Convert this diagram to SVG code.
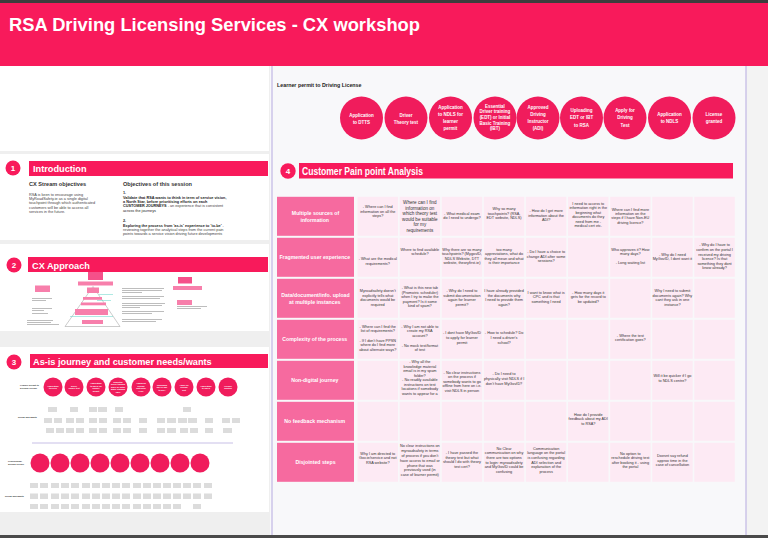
<svg xmlns="http://www.w3.org/2000/svg" width="768" height="538" viewBox="0 0 768 538">
<style>
text{font-family:"Liberation Sans",Arial,sans-serif}
.h1{font-weight:bold;fill:#fff}
.pk{fill:#F81A5B}
.st{fill:#F01C5C}
.stt{font-weight:bold;fill:#fff;font-size:4.5px;text-anchor:middle}
.sst{font-weight:bold;fill:#fff;font-size:2.1px;text-anchor:middle}
.rh{fill:#F66A9F}
.rht{font-weight:bold;fill:#fff;font-size:5.2px;text-anchor:middle}
.cell{fill:#FDEAF4}
.ct{font-size:3.8px;fill:#333;text-anchor:middle}
.gb{fill:#dcdcdc}
.tl{fill:#bdbdbd}
.lb{font-size:2.3px;fill:#333;font-weight:bold}
.bd{font-size:3.8px;fill:#444}
.bdb{font-size:3.8px;fill:#222;font-weight:bold}
.sub{font-size:5.6px;fill:#333;font-weight:bold}
</style>
<rect x="0" y="0" width="768" height="538" fill="#EFEFEF"/>
<rect x="0" y="0" width="768" height="3" fill="#3d3d3d"/>
<rect x="0" y="3" width="768" height="63" class="pk"/>
<text x="9" y="31" class="h1" font-size="18" textLength="411" lengthAdjust="spacingAndGlyphs">RSA Driving Licensing Services - CX workshop</text>
<!-- panels -->
<rect x="0" y="66" width="269" height="85" fill="#fff"/>
<rect x="0" y="154" width="269" height="86" fill="#fff"/>
<rect x="0" y="244" width="269" height="87" fill="#fff"/>
<rect x="0" y="347" width="269" height="165" fill="#fff"/>
<rect x="270" y="66" width="476" height="469" fill="#F8F8FA"/>
<rect x="747" y="66" width="21" height="469" fill="#F3F3F3"/>
<line x1="272" y1="66" x2="272" y2="535" stroke="#CCC5E8" stroke-width="1.5"/>
<line x1="746" y1="66" x2="746" y2="535" stroke="#CCC5E8" stroke-width="1.5"/>
<rect x="0" y="535" width="768" height="3" fill="#4a4a4a"/>

<!-- Section 1 -->
<g id="sec1">
<circle cx="13" cy="168" r="7.5" class="pk"/>
<text x="13" y="171" class="h1" font-size="8" text-anchor="middle">1</text>
<rect x="29" y="161" width="239" height="15" class="pk"/>
<text x="33" y="172" class="h1" font-size="9.2">Introduction</text>
<text x="29" y="186" class="sub">CX Stream objectives</text>
<text class="bd" x="29" y="195.5"><tspan x="29">RSA is keen to encourage using</tspan><tspan x="29" dy="4.4">MyRoadSafety.ie as a single digital</tspan><tspan x="29" dy="4.4">touchpoint through which authenticated</tspan><tspan x="29" dy="4.4">customers will be able to access all</tspan><tspan x="29" dy="4.4">services in the future.</tspan></text>
<text x="123" y="186" class="sub">Objectives of this session</text>
<text x="123" y="194" class="bdb">1.</text>
<text class="bdb" x="123" y="199"><tspan x="123">Validate that RSA wants to think in term of service vision,</tspan><tspan x="123" dy="4.2">a North Star, before prioritising efforts on each</tspan><tspan x="123" dy="4.2">CUSTOMER JOURNEYS<tspan class="bd" font-weight="normal"> - an experience that is consistent</tspan></tspan><tspan x="123" dy="4.2" font-weight="normal">across the journeys</tspan></text>
<text x="123" y="222" class="bdb">2.</text>
<text class="bd" x="123" y="226.5"><tspan x="123" font-weight="bold" fill="#222">Exploring the process from 'as-is' experience to 'to-be'</tspan><tspan> -</tspan><tspan x="123" dy="4.2">reviewing together the analytical steps from the current pain</tspan><tspan x="123" dy="4.2">points towards a service vision driving future developments</tspan></text>
</g>

<!-- Section 2 -->
<g id="sec2">
<circle cx="14" cy="265" r="7.5" class="pk"/>
<text x="14" y="268" class="h1" font-size="8" text-anchor="middle">2</text>
<rect x="28" y="257" width="240" height="15" class="pk"/>
<text x="32" y="268.5" class="h1" font-size="9.2">CX Approach</text>
<rect x="88" y="272" width="15" height="8" fill="#F5508A"/>
<rect x="78" y="281.5" width="35" height="4" fill="#F77FAB"/>
<polygon points="93,286.5 65,326.5 120,326.5" fill="none" stroke="#999" stroke-width="0.5"/>
<rect x="87" y="287.5" width="12" height="5.5" fill="#F77FAB"/>
<rect x="83" y="297" width="19" height="2.8" fill="#F77FAB"/>
<rect x="81" y="302.5" width="25" height="2.8" fill="#F77FAB"/>
<rect x="75" y="309" width="33" height="6" fill="#F77FAB"/>
<rect x="82" y="320" width="21" height="4" fill="#F77FAB"/>
<line x1="99" y1="294.5" x2="113" y2="294.5" stroke="#5FD3C7" stroke-width="0.5"/>
<line x1="97" y1="300.5" x2="111" y2="300.5" stroke="#5FD3C7" stroke-width="0.5"/>
<line x1="70" y1="316.5" x2="113" y2="316.5" stroke="#5FD3C7" stroke-width="0.5"/>
<rect x="35" y="285.5" width="15" height="6.5" fill="#F77FAB"/>
<rect x="32" y="298" width="20" height="1" class="tl"/><rect x="32" y="300" width="14" height="1" class="tl"/>
<rect x="32" y="308" width="20" height="1" class="tl"/><rect x="32" y="310" width="12" height="1" class="tl"/><rect x="32" y="313" width="16" height="1" class="tl"/>
<rect x="27" y="320" width="26" height="1" class="tl"/><rect x="27" y="322" width="24" height="1" class="tl"/><rect x="27" y="324" width="32" height="1" class="tl"/>
<rect x="122" y="288" width="42" height="1" class="tl"/><rect x="122" y="290" width="40" height="1" class="tl"/><rect x="122" y="292" width="20" height="1" class="tl"/>
<rect x="122" y="296" width="42" height="1" class="tl"/><rect x="122" y="298" width="38" height="1" class="tl"/>
<rect x="122" y="303" width="43" height="1" class="tl"/><rect x="122" y="305" width="40" height="1" class="tl"/><rect x="122" y="307" width="18" height="1" class="tl"/>
<rect x="122" y="311" width="42" height="1" class="tl"/><rect x="122" y="313" width="30" height="1" class="tl"/>
<rect x="122" y="319" width="40" height="1" class="tl"/><rect x="122" y="321" width="34" height="1" class="tl"/>
<rect x="178" y="277" width="14" height="6.5" fill="#F5508A"/>
<rect x="173" y="286" width="29" height="4" fill="#F77FAB"/>
<rect x="177" y="300" width="15" height="5" fill="#F77FAB"/>
<rect x="177" y="306" width="30" height="1" class="tl"/><rect x="177" y="308" width="24" height="1" class="tl"/>
</g>

<!-- Section 3 -->
<g id="sec3">
<circle cx="14" cy="362" r="7.5" class="pk"/>
<text x="14" y="365" class="h1" font-size="8" text-anchor="middle">3</text>
<rect x="30" y="354" width="238" height="14" class="pk"/>
<text x="33" y="365" class="h1" font-size="9.2">As-is journey and customer needs/wants</text>
<text class="lb" x="20" y="386"><tspan x="20">Learner permit to</tspan><tspan x="20" dy="2.6">Driving License</tspan></text>
<g class="st">
<circle cx="53" cy="387" r="9.5"/><circle cx="74" cy="387" r="9.5"/><circle cx="96" cy="387" r="9.5"/><circle cx="118" cy="387" r="9.5"/><circle cx="141" cy="387" r="9.5"/><circle cx="162" cy="387" r="9.5"/><circle cx="184" cy="387" r="9.5"/><circle cx="206" cy="387" r="9.5"/><circle cx="228" cy="387" r="9.5"/>
</g>
<text class="sst"><tspan x="53" y="386.5">Application</tspan><tspan x="53" dy="2.6">to DTTS</tspan><tspan x="74" y="386.5">Driver</tspan><tspan x="74" dy="2.6">Theory test</tspan><tspan x="96" y="384">Application</tspan><tspan x="96" dy="2.6">to NDLS for</tspan><tspan x="96" dy="2.6">learner</tspan><tspan x="96" dy="2.6">permit</tspan><tspan x="118" y="383">Essential</tspan><tspan x="118" dy="2.4">Driver training</tspan><tspan x="118" dy="2.4">(EDT) or Initial</tspan><tspan x="118" dy="2.4">Basic Training</tspan><tspan x="118" dy="2.4">(IBT)</tspan><tspan x="141" y="384">Approved</tspan><tspan x="141" dy="2.6">Driving</tspan><tspan x="141" dy="2.6">Instructor</tspan><tspan x="141" dy="2.6">(ADI)</tspan><tspan x="162" y="385.5">Uploading</tspan><tspan x="162" dy="2.6">EDT or IBT</tspan><tspan x="162" dy="2.6">to RSA</tspan><tspan x="184" y="385.5">Apply for</tspan><tspan x="184" dy="2.6">Driving</tspan><tspan x="184" dy="2.6">Test</tspan><tspan x="206" y="386.5">Application</tspan><tspan x="206" dy="2.6">to NDLS</tspan><tspan x="228" y="386.5">License</tspan><tspan x="228" dy="2.6">granted</tspan></text>
<text class="lb" x="18" y="418">Needs and wants</text>
<g class="gb">
<rect x="48" y="407" width="9" height="5"/><rect x="70" y="407" width="8" height="5"/><rect x="89" y="407" width="8" height="5"/><rect x="98" y="407" width="9" height="5"/><rect x="115" y="407" width="8" height="5"/><rect x="183" y="407" width="8" height="5"/>
<rect x="44" y="418" width="8" height="5"/><rect x="54" y="418" width="8" height="5"/><rect x="66" y="418" width="8" height="5"/><rect x="76" y="418" width="8" height="5"/><rect x="89" y="418" width="8" height="5"/><rect x="99" y="418" width="8" height="5"/><rect x="113" y="418" width="8" height="5"/><rect x="123" y="418" width="8" height="5"/><rect x="139" y="418" width="8" height="5"/><rect x="157" y="418" width="8" height="5"/><rect x="167" y="418" width="9" height="5"/><rect x="178" y="418" width="9" height="5"/><rect x="188" y="418" width="9" height="5"/><rect x="205" y="418" width="8" height="5"/><rect x="222" y="418" width="8" height="5"/><rect x="232" y="418" width="8" height="5"/>
<rect x="46" y="428" width="8" height="5"/><rect x="56" y="428" width="8" height="5"/><rect x="66" y="428" width="8" height="5"/><rect x="76" y="428" width="8" height="5"/><rect x="89" y="428" width="8" height="5"/><rect x="99" y="428" width="8" height="5"/><rect x="113" y="428" width="8" height="5"/><rect x="123" y="428" width="8" height="5"/><rect x="139" y="428" width="8" height="5"/><rect x="157" y="428" width="8" height="5"/><rect x="167" y="428" width="9" height="5"/><rect x="180" y="428" width="8" height="5"/><rect x="190" y="428" width="8" height="5"/><rect x="205" y="428" width="8" height="5"/><rect x="223" y="428" width="9" height="5"/>
</g>
<line x1="32" y1="443" x2="233" y2="443" stroke="#B9AEE0" stroke-width="0.8"/>
<text class="lb" x="8" y="462"><tspan x="8">Professional</tspan><tspan x="8" dy="2.6">driving licence</tspan></text>
<g class="st">
<circle cx="40" cy="463" r="9.5"/><circle cx="60" cy="463" r="9.5"/><circle cx="80" cy="463" r="9.5"/><circle cx="100" cy="463" r="9.5"/><circle cx="120" cy="463" r="9.5"/><circle cx="140" cy="463" r="9.5"/><circle cx="160" cy="463" r="9.5"/><circle cx="180" cy="463" r="9.5"/><circle cx="200" cy="463" r="9.5"/>
</g>
<text class="lb" x="5" y="497">Needs and wants</text>
<g class="gb">
<rect x="30" y="483" width="8" height="5"/><rect x="40" y="483" width="8" height="5"/><rect x="51" y="483" width="8" height="5"/><rect x="61" y="483" width="8" height="5"/><rect x="71" y="483" width="8" height="5"/><rect x="82" y="483" width="8" height="5"/><rect x="92" y="483" width="8" height="5"/><rect x="102" y="483" width="8" height="5"/><rect x="112" y="483" width="8" height="5"/><rect x="122" y="483" width="8" height="5"/><rect x="133" y="483" width="8" height="5"/><rect x="143" y="483" width="8" height="5"/><rect x="153" y="483" width="8" height="5"/><rect x="163" y="483" width="8" height="5"/><rect x="173" y="483" width="8" height="5"/><rect x="183" y="483" width="8" height="5"/><rect x="193" y="483" width="8" height="5"/><rect x="204" y="483" width="8" height="5"/>
<rect x="30" y="493.5" width="8" height="5.5"/><rect x="40" y="493.5" width="8" height="5.5"/><rect x="51" y="493.5" width="8" height="5.5"/><rect x="61" y="493.5" width="8" height="5.5"/><rect x="71" y="493.5" width="8" height="5.5"/><rect x="82" y="493.5" width="8" height="5.5"/><rect x="92" y="493.5" width="8" height="5.5"/><rect x="102" y="493.5" width="8" height="5.5"/><rect x="112" y="493.5" width="8" height="5.5"/><rect x="122" y="493.5" width="8" height="5.5"/><rect x="133" y="493.5" width="8" height="5.5"/><rect x="143" y="493.5" width="8" height="5.5"/><rect x="153" y="493.5" width="8" height="5.5"/><rect x="163" y="493.5" width="8" height="5.5"/><rect x="173" y="493.5" width="8" height="5.5"/><rect x="183" y="493.5" width="8" height="5.5"/><rect x="193" y="493.5" width="8" height="5.5"/><rect x="204" y="493.5" width="8" height="5.5"/>
<rect x="30" y="504" width="8" height="5"/><rect x="40" y="504" width="8" height="5"/><rect x="51" y="504" width="8" height="5"/><rect x="61" y="504" width="8" height="5"/><rect x="71" y="504" width="8" height="5"/><rect x="82" y="504" width="8" height="5"/><rect x="92" y="504" width="8" height="5"/><rect x="102" y="504" width="8" height="5"/><rect x="112" y="504" width="8" height="5"/><rect x="122" y="504" width="8" height="5"/><rect x="133" y="504" width="8" height="5"/><rect x="143" y="504" width="8" height="5"/><rect x="153" y="504" width="8" height="5"/><rect x="163" y="504" width="8" height="5"/><rect x="173" y="504" width="8" height="5"/><rect x="193" y="504" width="8" height="5"/>
</g>
</g>

<!-- Journey stages -->
<text x="277" y="87" font-size="5.3" font-weight="bold" fill="#222">Learner permit to Driving License</text>
<g id="stage1"><circle cx="361.5" cy="118" r="21.5" class="st"/><text class="stt"><tspan x="361.5" y="116.6">Application</tspan><tspan x="361.5" dy="7.2">to DTTS</tspan></text></g>
<g id="stage2"><circle cx="406" cy="118" r="21.5" class="st"/><text class="stt"><tspan x="406" y="116.6">Driver</tspan><tspan x="406" dy="7.2">Theory test</tspan></text></g>
<g id="stage3"><circle cx="450.5" cy="118" r="21.5" class="st"/><text class="stt"><tspan x="450.5" y="109">Application</tspan><tspan x="450.5" dy="7">to NDLS for</tspan><tspan x="450.5" dy="7">learner</tspan><tspan x="450.5" dy="7">permit</tspan></text></g>
<g id="stage4"><circle cx="495" cy="118" r="21.5" class="st"/><text class="stt" font-size="4"><tspan x="495" y="107.5">Essential</tspan><tspan x="495" dy="5.7">Driver training</tspan><tspan x="495" dy="5.7">(EDT) or Initial</tspan><tspan x="495" dy="5.7">Basic Training</tspan><tspan x="495" dy="5.7">(IBT)</tspan></text></g>
<g id="stage5"><circle cx="538" cy="118" r="21.5" class="st"/><text class="stt"><tspan x="538" y="109">Approved</tspan><tspan x="538" dy="7.1">Driving</tspan><tspan x="538" dy="7.1">Instructor</tspan><tspan x="538" dy="7.1">(ADI)</tspan></text></g>
<g id="stage6"><circle cx="581.5" cy="118" r="21.5" class="st"/><text class="stt"><tspan x="581.5" y="112.3">Uploading</tspan><tspan x="581.5" dy="7.1">EDT or IBT</tspan><tspan x="581.5" dy="7.1">to RSA</tspan></text></g>
<g id="stage7"><circle cx="625" cy="118" r="21.5" class="st"/><text class="stt"><tspan x="625" y="112.3">Apply for</tspan><tspan x="625" dy="7.1">Driving</tspan><tspan x="625" dy="7.1">Test</tspan></text></g>
<g id="stage8"><circle cx="669.5" cy="118" r="21.5" class="st"/><text class="stt"><tspan x="669.5" y="116.2">Application</tspan><tspan x="669.5" dy="7.2">to NDLS</tspan></text></g>
<g id="stage9"><circle cx="714" cy="118" r="21.5" class="st"/><text class="stt"><tspan x="714" y="116.2">License</tspan><tspan x="714" dy="7.2">granted</tspan></text></g>

<!-- Section 4 -->
<g id="sec4">
<circle cx="288" cy="171" r="7.7" class="pk"/>
<text x="288" y="174" class="h1" font-size="8" text-anchor="middle">4</text>
<rect x="299" y="163" width="434" height="15.5" class="pk"/>
<text x="302" y="174.5" class="h1" font-size="10.5" textLength="121" lengthAdjust="spacingAndGlyphs">Customer Pain point Analysis</text>
</g>

<!-- row headers -->
<g id="rowheads">
<rect x="277" y="196.8" width="77" height="39" class="rh"/>
<rect x="277" y="237.8" width="77" height="39" class="rh"/>
<rect x="277" y="278.8" width="77" height="39" class="rh"/>
<rect x="277" y="319.8" width="77" height="39" class="rh"/>
<rect x="277" y="360.8" width="77" height="39" class="rh"/>
<rect x="277" y="401.8" width="77" height="39" class="rh"/>
<rect x="277" y="442.8" width="77" height="39" class="rh"/>
<text class="rht"><tspan x="315.5" y="214.5">Multiple sources of</tspan><tspan x="315.5" dy="7.3">information</tspan>
<tspan x="315.5" y="259.2">Fragmented user experience</tspan>
<tspan x="315.5" y="296.5">Data/document/info. upload</tspan><tspan x="315.5" dy="7">at multiple instances</tspan>
<tspan x="315.5" y="341.2">Complexity of the process</tspan>
<tspan x="315.5" y="382.2">Non-digital journey</tspan>
<tspan x="315.5" y="423.2">No feedback mechanism</tspan>
<tspan x="315.5" y="464.2">Disjointed steps</tspan></text>
</g>

<!-- cells -->
<g id="cells" class="cell">
<rect x="357.5" y="196.8" width="40.5" height="39"/><rect x="399.6" y="196.8" width="40.5" height="39"/><rect x="441.7" y="196.8" width="40.5" height="39"/><rect x="483.8" y="196.8" width="40.5" height="39"/><rect x="525.9" y="196.8" width="40.5" height="39"/><rect x="568" y="196.8" width="40.5" height="39"/><rect x="610.1" y="196.8" width="40.5" height="39"/><rect x="652.2" y="196.8" width="40.5" height="39"/><rect x="694.3" y="196.8" width="40.5" height="39"/>
<rect x="357.5" y="237.8" width="40.5" height="39"/><rect x="399.6" y="237.8" width="40.5" height="39"/><rect x="441.7" y="237.8" width="40.5" height="39"/><rect x="483.8" y="237.8" width="40.5" height="39"/><rect x="525.9" y="237.8" width="40.5" height="39"/><rect x="568" y="237.8" width="40.5" height="39"/><rect x="610.1" y="237.8" width="40.5" height="39"/><rect x="652.2" y="237.8" width="40.5" height="39"/><rect x="694.3" y="237.8" width="40.5" height="39"/>
<rect x="357.5" y="278.8" width="40.5" height="39"/><rect x="399.6" y="278.8" width="40.5" height="39"/><rect x="441.7" y="278.8" width="40.5" height="39"/><rect x="483.8" y="278.8" width="40.5" height="39"/><rect x="525.9" y="278.8" width="40.5" height="39"/><rect x="568" y="278.8" width="40.5" height="39"/><rect x="610.1" y="278.8" width="40.5" height="39"/><rect x="652.2" y="278.8" width="40.5" height="39"/><rect x="694.3" y="278.8" width="40.5" height="39"/>
<rect x="357.5" y="319.8" width="40.5" height="39"/><rect x="399.6" y="319.8" width="40.5" height="39"/><rect x="441.7" y="319.8" width="40.5" height="39"/><rect x="483.8" y="319.8" width="40.5" height="39"/><rect x="525.9" y="319.8" width="40.5" height="39"/><rect x="568" y="319.8" width="40.5" height="39"/><rect x="610.1" y="319.8" width="40.5" height="39"/><rect x="652.2" y="319.8" width="40.5" height="39"/><rect x="694.3" y="319.8" width="40.5" height="39"/>
<rect x="357.5" y="360.8" width="40.5" height="39"/><rect x="399.6" y="360.8" width="40.5" height="39"/><rect x="441.7" y="360.8" width="40.5" height="39"/><rect x="483.8" y="360.8" width="40.5" height="39"/><rect x="525.9" y="360.8" width="40.5" height="39"/><rect x="568" y="360.8" width="40.5" height="39"/><rect x="610.1" y="360.8" width="40.5" height="39"/><rect x="652.2" y="360.8" width="40.5" height="39"/><rect x="694.3" y="360.8" width="40.5" height="39"/>
<rect x="357.5" y="401.8" width="40.5" height="39"/><rect x="399.6" y="401.8" width="40.5" height="39"/><rect x="441.7" y="401.8" width="40.5" height="39"/><rect x="483.8" y="401.8" width="40.5" height="39"/><rect x="525.9" y="401.8" width="40.5" height="39"/><rect x="568" y="401.8" width="40.5" height="39"/><rect x="610.1" y="401.8" width="40.5" height="39"/><rect x="652.2" y="401.8" width="40.5" height="39"/><rect x="694.3" y="401.8" width="40.5" height="39"/>
<rect x="357.5" y="442.8" width="40.5" height="39"/><rect x="399.6" y="442.8" width="40.5" height="39"/><rect x="441.7" y="442.8" width="40.5" height="39"/><rect x="483.8" y="442.8" width="40.5" height="39"/><rect x="525.9" y="442.8" width="40.5" height="39"/><rect x="568" y="442.8" width="40.5" height="39"/><rect x="610.1" y="442.8" width="40.5" height="39"/><rect x="652.2" y="442.8" width="40.5" height="39"/><rect x="694.3" y="442.8" width="40.5" height="39"/>
</g>

<g id="celltext" class="ct">
<!-- row 0 -->
<text><tspan x="377.75" y="208">- Where can I find</tspan><tspan x="377.75" dy="4.5">information on all the</tspan><tspan x="377.75" dy="4.5">steps?</tspan></text>
<text font-size="4.6"><tspan x="419.85" y="204">Where can I find</tspan><tspan x="419.85" dy="5.6">information on</tspan><tspan x="419.85" dy="5.6">which theory test</tspan><tspan x="419.85" dy="5.6">would be suitable</tspan><tspan x="419.85" dy="5.6">for my</tspan><tspan x="419.85" dy="5.6">requirements</tspan></text>
<text><tspan x="461.95" y="214.6">- What medical exam</tspan><tspan x="461.95" dy="4.6">do I need to undergo?</tspan></text>
<text><tspan x="504.05" y="210">Why so many</tspan><tspan x="504.05" dy="4.5">touchpoints? (RSA,</tspan><tspan x="504.05" dy="4.5">EDT website, NDLS)</tspan></text>
<text><tspan x="546.15" y="212.3">- How do I get more</tspan><tspan x="546.15" dy="4.4">information about the</tspan><tspan x="546.15" dy="4.4">ADI?</tspan></text>
<text><tspan x="588.25" y="204.6">I need to access to</tspan><tspan x="588.25" dy="4.5">information right in the</tspan><tspan x="588.25" dy="4.5">beginning what</tspan><tspan x="588.25" dy="4.5">documents do they</tspan><tspan x="588.25" dy="4.5">need from me -</tspan><tspan x="588.25" dy="4.5">medical cert etc.</tspan></text>
<text><tspan x="630.35" y="210.6">Where can I find more</tspan><tspan x="630.35" dy="4.3">information on the</tspan><tspan x="630.35" dy="4.3">steps if I have Non-EU</tspan><tspan x="630.35" dy="4.3">driving licence?</tspan></text>
<!-- row 1 -->
<text><tspan x="377.75" y="260.3">- What are the medical</tspan><tspan x="377.75" dy="4.4">requirements?</tspan></text>
<text><tspan x="419.85" y="250.6">Where to find available</tspan><tspan x="419.85" dy="4.6">schedule?</tspan></text>
<text><tspan x="461.95" y="250.6">Why there are so many</tspan><tspan x="461.95" dy="4.6">touchpoints? (MygovID,</tspan><tspan x="461.95" dy="4.6">NDLS Website, DTT</tspan><tspan x="461.95" dy="4.6">website, theoryfirst.ie)</tspan></text>
<text><tspan x="504.05" y="250.6">too many</tspan><tspan x="504.05" dy="4.6">appreviations, what do</tspan><tspan x="504.05" dy="4.6">they all mean and what</tspan><tspan x="504.05" dy="4.6">is their importance</tspan></text>
<text><tspan x="546.15" y="253">- Do I have a choice to</tspan><tspan x="546.15" dy="4.6">change ADI after some</tspan><tspan x="546.15" dy="4.6">sessions?</tspan></text>
<text><tspan x="630.35" y="250.6">Who approves it? How</tspan><tspan x="630.35" dy="4.6">many days?</tspan><tspan x="630.35" dy="9.2">- Long waiting list</tspan></text>
<text><tspan x="672.45" y="255.6">- Why do I need</tspan><tspan x="672.45" dy="4.6">MyGovID, I dont want it</tspan></text>
<text><tspan x="714.55" y="246.3">- Why do I have to</tspan><tspan x="714.55" dy="4.6">confirm on the portal I</tspan><tspan x="714.55" dy="4.6">received my driving</tspan><tspan x="714.55" dy="4.6">licence? Is that</tspan><tspan x="714.55" dy="4.6">something they dont</tspan><tspan x="714.55" dy="4.6">know already?</tspan></text>
<!-- row 2 -->
<text><tspan x="377.75" y="292">Myroadsafety doesn't</tspan><tspan x="377.75" dy="4.5">explicitly tells what</tspan><tspan x="377.75" dy="4.5">documents would be</tspan><tspan x="377.75" dy="4.5">required</tspan></text>
<text><tspan x="419.85" y="289">- What is this new tab</tspan><tspan x="419.85" dy="4.5">(Promotric scheduler)</tspan><tspan x="419.85" dy="4.5">when I try to make the</tspan><tspan x="419.85" dy="4.5">payment? Is it some</tspan><tspan x="419.85" dy="4.5">kind of spam?</tspan></text>
<text><tspan x="461.95" y="292">- Why do I need to</tspan><tspan x="461.95" dy="4.5">submit documentation</tspan><tspan x="461.95" dy="4.5">again for learner</tspan><tspan x="461.95" dy="4.5">permit?</tspan></text>
<text><tspan x="504.05" y="292">I have already provided</tspan><tspan x="504.05" dy="4.5">the documents why</tspan><tspan x="504.05" dy="4.5">I need to provide them</tspan><tspan x="504.05" dy="4.5">again?</tspan></text>
<text><tspan x="546.15" y="293.6">I want to know what is</tspan><tspan x="546.15" dy="4.6">CPC and is that</tspan><tspan x="546.15" dy="4.6">something I need</tspan></text>
<text><tspan x="588.25" y="293.6">- How many days it</tspan><tspan x="588.25" dy="4.6">gets for the record to</tspan><tspan x="588.25" dy="4.6">be updated?</tspan></text>
<text><tspan x="672.45" y="292">Why I need to submit</tspan><tspan x="672.45" dy="4.5">documents again? Why</tspan><tspan x="672.45" dy="4.5">cant they ask in one</tspan><tspan x="672.45" dy="4.5">instance?</tspan></text>
<!-- row 3 -->
<text><tspan x="377.75" y="328">- Where can I find the</tspan><tspan x="377.75" dy="4.4">list of requirements?</tspan><tspan x="377.75" dy="9.3">- If I don't have PPSN</tspan><tspan x="377.75" dy="4.6">where do I find more</tspan><tspan x="377.75" dy="4.6">about alternate ways?</tspan></text>
<text><tspan x="419.85" y="328">- Why I am not able to</tspan><tspan x="419.85" dy="4.3">create my RSA</tspan><tspan x="419.85" dy="4.3">account?</tspan><tspan x="419.85" dy="10">- No mock test/format</tspan><tspan x="419.85" dy="4.3">of test</tspan></text>
<text><tspan x="461.95" y="334">- I dont have MyGovID</tspan><tspan x="461.95" dy="4.8">to apply for learner</tspan><tspan x="461.95" dy="4.8">permit</tspan></text>
<text><tspan x="504.05" y="334">- How to schedule? Do</tspan><tspan x="504.05" dy="4.8">I need a driver's</tspan><tspan x="504.05" dy="4.8">school?</tspan></text>
<text><tspan x="630.35" y="337">- Where the test</tspan><tspan x="630.35" dy="4.4">certification goes?</tspan></text>
<!-- row 4 -->
<text><tspan x="419.85" y="363">- Why all the</tspan><tspan x="419.85" dy="4.5">knowledge material</tspan><tspan x="419.85" dy="4.5">email is in my spam</tspan><tspan x="419.85" dy="4.5">folder?</tspan><tspan x="419.85" dy="4.7">- No readily available</tspan><tspan x="419.85" dy="4.5">instructions on test</tspan><tspan x="419.85" dy="4.5">locations if somebody</tspan><tspan x="419.85" dy="4.5">wants to appear for a</tspan></text>
<text><tspan x="461.95" y="373.6">- No clear instructions</tspan><tspan x="461.95" dy="4.6">on the process if</tspan><tspan x="461.95" dy="4.6">somebody wants to go</tspan><tspan x="461.95" dy="4.6">offline from here on i.e.</tspan><tspan x="461.95" dy="4.6">visit NDLS in person</tspan></text>
<text><tspan x="504.05" y="374.6">- Do I need to</tspan><tspan x="504.05" dy="5">physically visit NDLS if I</tspan><tspan x="504.05" dy="5">don't have MyGovID?</tspan></text>
<text><tspan x="672.45" y="377.3">Will it be quicker if I go</tspan><tspan x="672.45" dy="5">to NDLS centre?</tspan></text>
<!-- row 5 -->
<text><tspan x="588.25" y="415.6">How do I provide</tspan><tspan x="588.25" dy="4.6">feedback about my ADI</tspan><tspan x="588.25" dy="4.6">to RSA?</tspan></text>
<!-- row 6 -->
<text><tspan x="377.75" y="454.6">Why I am directed to</tspan><tspan x="377.75" dy="4.5">Gov.ie/service and not</tspan><tspan x="377.75" dy="4.5">RSA website?</tspan></text>
<text><tspan x="419.85" y="447.3">No clear instructions on</tspan><tspan x="419.85" dy="4.8">myroadsafety in terms</tspan><tspan x="419.85" dy="4.8">of process if you don't</tspan><tspan x="419.85" dy="4.8">have access to email or</tspan><tspan x="419.85" dy="4.8">phone that was</tspan><tspan x="419.85" dy="4.8">previously used (in</tspan><tspan x="419.85" dy="4.8">case of learner permit)</tspan></text>
<text><tspan x="461.95" y="454">- I have passed the</tspan><tspan x="461.95" dy="4.7">theory test but what</tspan><tspan x="461.95" dy="4.7">should I do with theory</tspan><tspan x="461.95" dy="4.7">test cert?</tspan></text>
<text><tspan x="504.05" y="449.6">No Clear</tspan><tspan x="504.05" dy="4.7">communication on why</tspan><tspan x="504.05" dy="4.7">there are two options</tspan><tspan x="504.05" dy="4.7">to login: myroadsafety</tspan><tspan x="504.05" dy="4.7">and MyGovID could be</tspan><tspan x="504.05" dy="4.7">confusing</tspan></text>
<text><tspan x="546.15" y="449.6">Communication</tspan><tspan x="546.15" dy="4.7">language on the portal</tspan><tspan x="546.15" dy="4.7">is confusing regarding</tspan><tspan x="546.15" dy="4.7">ADI selection and</tspan><tspan x="546.15" dy="4.7">explanation of the</tspan><tspan x="546.15" dy="4.7">process</tspan></text>
<text><tspan x="630.35" y="454.6">No option to</tspan><tspan x="630.35" dy="4.6">reschedule driving test</tspan><tspan x="630.35" dy="4.6">after booking it - using</tspan><tspan x="630.35" dy="4.6">the portal</tspan></text>
<text><tspan x="672.45" y="457">Doesnt say refund</tspan><tspan x="672.45" dy="4.5">approx time in the</tspan><tspan x="672.45" dy="4.5">case of cancellation</tspan></text>
</g>
</svg>
